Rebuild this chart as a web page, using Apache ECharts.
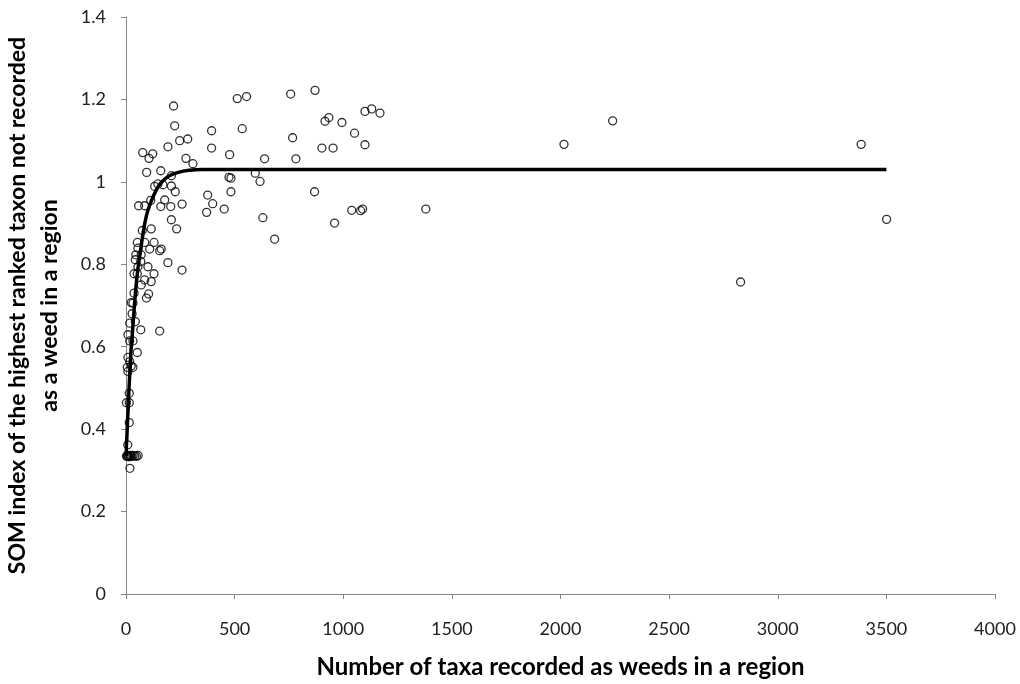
<!DOCTYPE html>
<html>
<head>
<meta charset="utf-8">
<script src="https://cdn.jsdelivr.net/npm/echarts@6/dist/echarts.min.js"></script>
<style>
    html, body { margin: 0; padding: 0; background: #fff; }
    #main { width: 1020px; height: 684px; }
</style>
</head>
<body>
<div id="main"></div>
<script>
// observed regions: taxa recorded as weeds (x) and SOM index (y)
var weedCounts = [
    219, 224, 247, 284, 193, 77, 123, 106, 276, 308,
    95, 160, 209, 132, 147, 170, 209, 227, 58, 86,
    114, 160, 178, 206, 258, 209, 233, 75, 116, 52,
    86, 129, 55, 109, 162, 155, 45, 70, 43, 68,
    193, 258, 55, 101, 37, 52, 129, 86, 116, 70,
    104, 94, 37, 24, 32, 28, 17, 43, 68, 155,
    9, 17, 32, 52, 9, 17, 24, 6, 32, 9,
    15, 2, 15, 15, 8, 2, 5, 8, 11, 14,
    18, 22, 27, 33, 40, 48, 56, 18,
    394, 394, 376, 399, 371, 452, 477, 474, 483, 483,
    512, 555, 535, 595, 617, 638, 630, 684, 758, 767,
    782, 868, 870, 916, 934, 994, 1052, 1100, 1131, 1169,
    902, 953, 1100, 1039, 1080, 1089, 960, 1380, 2016, 2240,
    2829, 3384, 3501
];
var somIndex = [
    1.184, 1.136, 1.100, 1.104, 1.085, 1.071, 1.068, 1.057, 1.057, 1.044,
    1.023, 1.027, 1.015, 0.989, 0.995, 0.993, 0.990, 0.976, 0.942, 0.942,
    0.955, 0.940, 0.956, 0.940, 0.946, 0.908, 0.886, 0.882, 0.886, 0.853,
    0.853, 0.853, 0.839, 0.837, 0.837, 0.833, 0.823, 0.823, 0.811, 0.807,
    0.804, 0.786, 0.794, 0.794, 0.777, 0.777, 0.777, 0.762, 0.758, 0.750,
    0.728, 0.718, 0.730, 0.707, 0.706, 0.680, 0.657, 0.661, 0.641, 0.638,
    0.629, 0.614, 0.614, 0.586, 0.574, 0.564, 0.553, 0.550, 0.550, 0.540,
    0.487, 0.464, 0.464, 0.416, 0.362, 0.335, 0.334, 0.336, 0.335, 0.333,
    0.336, 0.335, 0.334, 0.336, 0.335, 0.334, 0.336, 0.305,
    1.124, 1.082, 0.968, 0.947, 0.926, 0.934, 1.066, 1.011, 1.009, 0.976,
    1.202, 1.207, 1.129, 1.021, 1.001, 1.056, 0.913, 0.861, 1.213, 1.107,
    1.056, 0.976, 1.222, 1.147, 1.156, 1.144, 1.118, 1.171, 1.177, 1.167,
    1.082, 1.082, 1.090, 0.931, 0.930, 0.934, 0.900, 0.934, 1.091, 1.148,
    0.757, 1.091, 0.909
];

// fitted curve
var fitX = [1, 2, 4, 7, 10, 14, 18, 23, 29, 36, 45, 55, 66, 80, 95, 110, 130, 150, 175, 200, 240, 290, 350, 450, 3500];
var fitY = [0.335, 0.36, 0.38, 0.42, 0.45, 0.50, 0.54, 0.59, 0.63, 0.68, 0.74, 0.79, 0.83, 0.88, 0.92, 0.945, 0.97, 0.99, 1.005, 1.015, 1.023, 1.028, 1.03, 1.03, 1.03];

var xTicks = { min: 0, max: 4000, interval: 500 };
var yTicks = { min: 0, max: 1.4, interval: 0.2 };

var FONT = 'Lato, "DejaVu Sans", sans-serif';
var AXIS_GREY = '#868686';

function zip(a, b) {
    var out = [];
    for (var i = 0; i < a.length; i++) {
        out.push([a[i], b[i]]);
    }
    return out;
}

var chart = echarts.init(document.getElementById('main'), null, { renderer: 'canvas' });

chart.setOption({
    animation: false,
    backgroundColor: '#fff',
    textStyle: { fontFamily: FONT },
    grid: {
        left: 126,
        right: 25,
        top: 17,
        bottom: 90,
        containLabel: false,
        outerBoundsMode: 'none'
    },
    xAxis: {
        type: 'value',
        min: xTicks.min,
        max: xTicks.max,
        interval: xTicks.interval,
        name: 'Number of taxa recorded as weeds in a region',
        nameLocation: 'middle',
        nameGap: 61,
        nameTextStyle: { fontFamily: FONT, fontSize: 24, fontWeight: 'bold', color: '#000' },
        axisLine: { lineStyle: { color: AXIS_GREY, width: 1 } },
        axisTick: { length: 5, lineStyle: { color: AXIS_GREY } },
        axisLabel: {
            fontFamily: FONT,
            fontSize: 18,
            color: '#222',
            margin: 26,
            formatter: function (v) { return String(v); }
        },
        splitLine: { show: false }
    },
    yAxis: {
        type: 'value',
        min: yTicks.min,
        max: yTicks.max,
        interval: yTicks.interval,
        name: 'SOM index of the highest ranked taxon not recorded\nas a weed in a region',
        nameLocation: 'middle',
        nameRotate: 90,
        nameGap: 60,
        nameTextStyle: { fontFamily: FONT, fontSize: 23, fontWeight: 'bold', color: '#000', lineHeight: 32 },
        axisLine: { show: true, lineStyle: { color: AXIS_GREY, width: 1 } },
        axisTick: { show: true, length: 5, lineStyle: { color: AXIS_GREY } },
        axisLabel: {
            fontFamily: FONT,
            fontSize: 18,
            color: '#222',
            margin: 20,
            formatter: function (v) { return String(+v.toFixed(1)); }
        },
        splitLine: { show: false }
    },
    series: [
        {
            type: 'line',
            data: zip(fitX, fitY),
            smooth: 0.3,
            showSymbol: false,
            lineStyle: { color: '#000', width: 3.5 },
            z: 2
        },
        {
            type: 'scatter',
            data: zip(weedCounts, somIndex),
            symbol: 'circle',
            symbolSize: 8,
            itemStyle: { color: 'rgba(0,0,0,0)', borderColor: '#000', borderWidth: 1.3 },
            z: 3
        }
    ]
});
</script>
</body>
</html>
